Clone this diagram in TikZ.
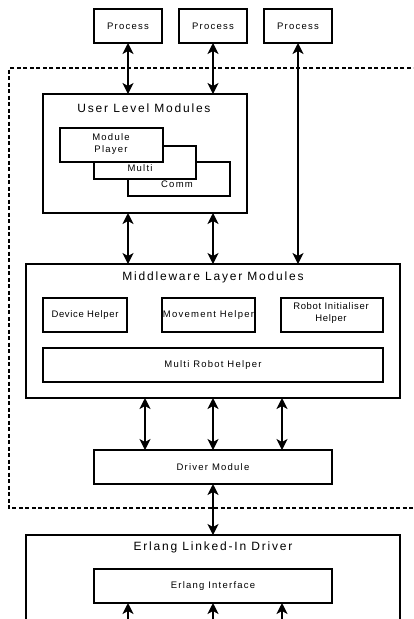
\documentclass[tikz,border=0pt]{standalone}
\usepackage{fontspec}
\setmainfont{Liberation Sans}
\newfontfamily\labfont[LetterSpace=13]{Liberation Sans}
\newfontfamily\narrowfont[LetterSpace=7]{Liberation Sans}
\newfontfamily\titlefont[LetterSpace=15]{Liberation Sans}
\usetikzlibrary{arrows.meta,calc}
\tikzset{
  box/.style={draw=black, line width=1.5pt, fill=white, rectangle, inner sep=0pt, outer sep=0pt,
              font=\labfont\fontsize{9.5}{12}\selectfont, align=center},
  narrow/.style={font=\narrowfont\fontsize{9.5}{12}\selectfont},
  title/.style={inner sep=0pt, font=\titlefont\fontsize{12}{14}\selectfont},
  small/.style={inner sep=0pt, font=\labfont\fontsize{9.5}{12}\selectfont, align=center},
  dar/.style={line width=1.5pt, {Stealth[length=11pt,width=11pt,inset=3pt]}-{Stealth[length=11pt,width=11pt,inset=3pt]}},
  uar/.style={line width=1.5pt, -{Stealth[length=11pt,width=11pt,inset=3pt]}},
  boundary/.style={line width=1.2pt, dash pattern=on 4pt off 2.5pt}
}
\begin{document}
\begin{tikzpicture}[x=1pt,y=-1pt]
\clip (0,0) rectangle (413,619);
\fill[white] (0,0) rectangle (413,619);

% process boxes on top
\node[box, minimum width=68pt, minimum height=34pt] (p1) at (128,26) {Process};
\node[box, minimum width=68pt, minimum height=34pt] (p2) at (213,26) {Process};
\node[box, minimum width=68pt, minimum height=34pt] (p3) at (298,26) {Process};

% dashed boundary of the Erlang side
\draw[boundary] (430,68) -- (9,68) -- (9,508) -- (430,508);

% user level modules
\node[box, minimum width=204pt, minimum height=119pt] (ulm) at (145,153.5) {};
\node[title] (ulmt) at (144,108) {User Level Modules};
\node[box, minimum width=102pt, minimum height=34pt] (comm) at (179,179) {};
\node[box, minimum width=102pt, minimum height=33pt] (multi) at (145,162.5) {};
\node[box, minimum width=103pt, minimum height=34pt] (module) at (111.5,145) {};
\node[small] (modulet) at (111,144) {Module\\Player};
\node[small] (multit) at (140,168) {Multi};
\node[small] (commt) at (177,184.5) {Comm};

% middleware layer
\node[box, minimum width=374pt, minimum height=134pt] (mw) at (213,331) {};
\node[title] (mwt) at (213,277) {Middleware Layer Modules};
\node[box, narrow, minimum width=84pt, minimum height=34pt] (dev) at (85,315) {Device Helper};
\node[box, minimum width=93pt, minimum height=34pt] (mov) at (208.5,315) {Movement Helper};
\node[box, minimum width=102pt, minimum height=34pt] (rih) at (332,315) {};
\node[small, narrow] (riht) at (331,313) {Robot Initialiser\\Helper};
\node[box, minimum width=340pt, minimum height=34pt] (mrh) at (213,365) {Multi Robot Helper};

% driver module
\node[box, minimum width=238pt, minimum height=34pt] (drv) at (213,467) {Driver Module};

% linked-in driver
\node[box, minimum width=374pt, minimum height=100pt] (eld) at (213,585) {};
\node[title] (eldt) at (213,547) {Erlang Linked-In Driver};
\node[box, minimum width=238pt, minimum height=34pt] (ei) at (213,586) {Erlang Interface};

% connectors
\draw[dar] (p1.south) -- (p1.south |- ulm.north);
\draw[dar] (p2.south) -- (p2.south |- ulm.north);
\draw[dar] (p3.south) -- (p3.south |- mw.north);
\draw[dar] ($(ulm.south)+(-17,0)$) -- ($(mw.north)+(-85,0)$);
\draw[dar] ($(ulm.south)+(68,0)$) -- (mw.north);
\draw[dar] ($(mw.south)+(-68,0)$) -- ($(drv.north)+(-68,0)$);
\draw[dar] (mw.south) -- (drv.north);
\draw[dar] ($(mw.south)+(69,0)$) -- ($(drv.north)+(69,0)$);
\draw[dar] (drv.south) -- (eld.north);

\coordinate (b1) at (128,630);
\coordinate (b2) at (213,630);
\coordinate (b3) at (282,630);
\draw[uar] (b1) -- (b1 |- ei.south);
\draw[uar] (b2) -- (b2 |- ei.south);
\draw[uar] (b3) -- (b3 |- ei.south);
\end{tikzpicture}
\end{document}
